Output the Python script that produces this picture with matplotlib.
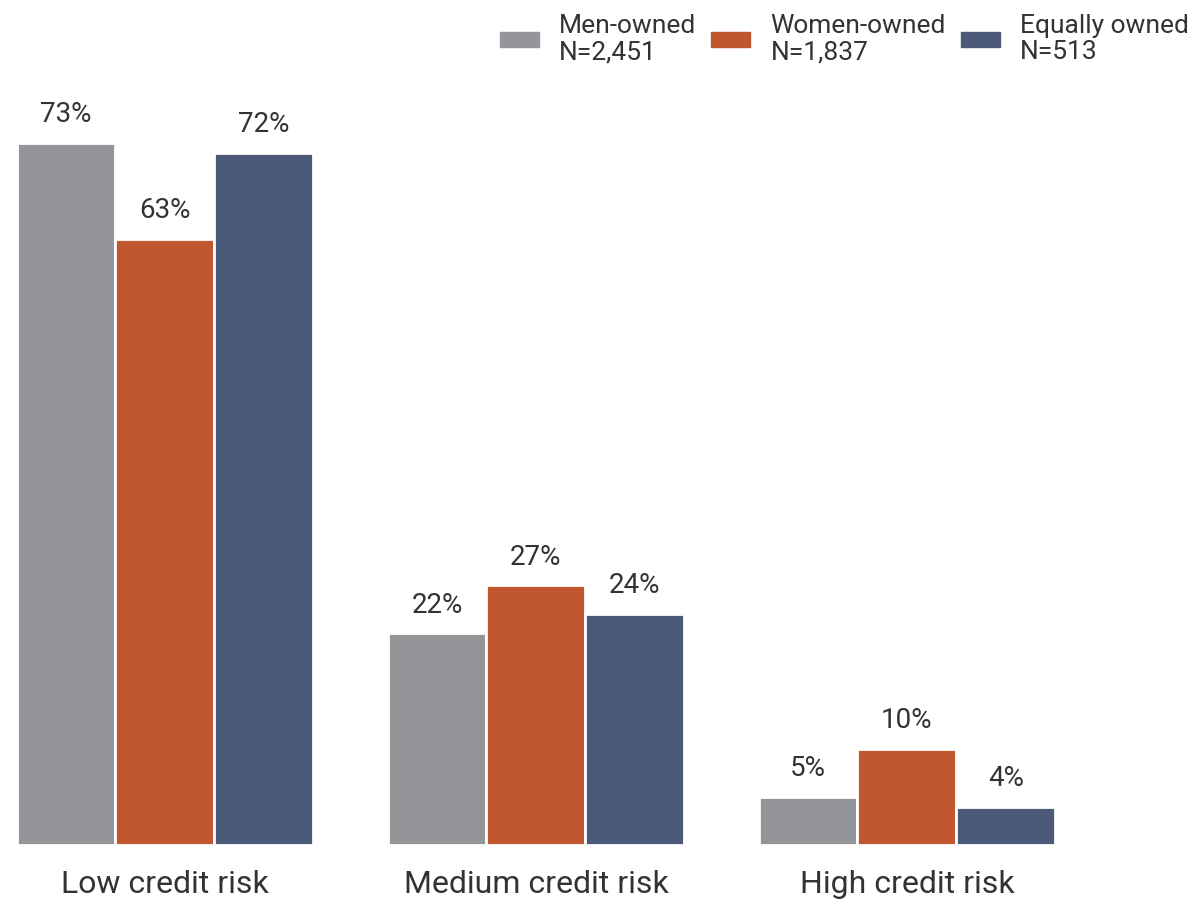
import numpy as np
import matplotlib as mpl
import matplotlib.pyplot as plt
from matplotlib.patches import Rectangle

mpl.rc('font', family='Roboto')
txtcol = '#333333'

categories = ['Low credit risk', 'Medium credit risk', 'High credit risk']
series = ['Men-owned\nN=2,451', 'Women-owned\nN=1,837', 'Equally owned\nN=513']
men = [73, 22, 5]
women = [63, 27, 10]
equal = [72, 24, 4]
colors = ['#939598', '#C0572F', '#4A5A78']

fig = plt.figure(figsize=(11.97, 9.02), dpi=100)
ax = fig.add_axes([0, 57/902, 1, 845/902])

x = np.arange(len(categories))
w = 0.2668
for k, (vals, c) in enumerate(zip([men, women, equal], colors)):
    bars = ax.bar(x + (k-1)*w, vals, width=w, color=c, edgecolor='white', linewidth=2)
    for b, v in zip(bars, vals):
        ax.annotate(str(v) + '%', (b.get_x() + b.get_width()/2, v), xytext=(0, 15),
                    textcoords='offset points', ha='center', va='baseline',
                    fontsize=20, color=txtcol)

ax.set_xlim(-0.4447, 2.7817)
ax.set_ylim(0, 87.87)
ax.set_xticks(x)
ax.set_xticklabels(categories, fontsize=23, color=txtcol)
ax.tick_params(axis='x', length=0, pad=18)
ax.set_yticks([])
for s in ax.spines.values():
    s.set_visible(False)

handles = [Rectangle((0, 0), 1, 1, color=c) for c in colors]
leg = fig.legend(handles, series, loc='upper right', bbox_to_anchor=(1202/1197, 1 - 1/902),
                 ncol=3, frameon=False, fontsize=19, borderpad=0, handlelength=1.48,
                 handleheight=0.45, handletextpad=0.76, columnspacing=0.57,
                 labelcolor=txtcol, labelspacing=0)
for t in leg.get_texts():
    t.set_linespacing(1.12)

fig.savefig('out.png', dpi=100)
